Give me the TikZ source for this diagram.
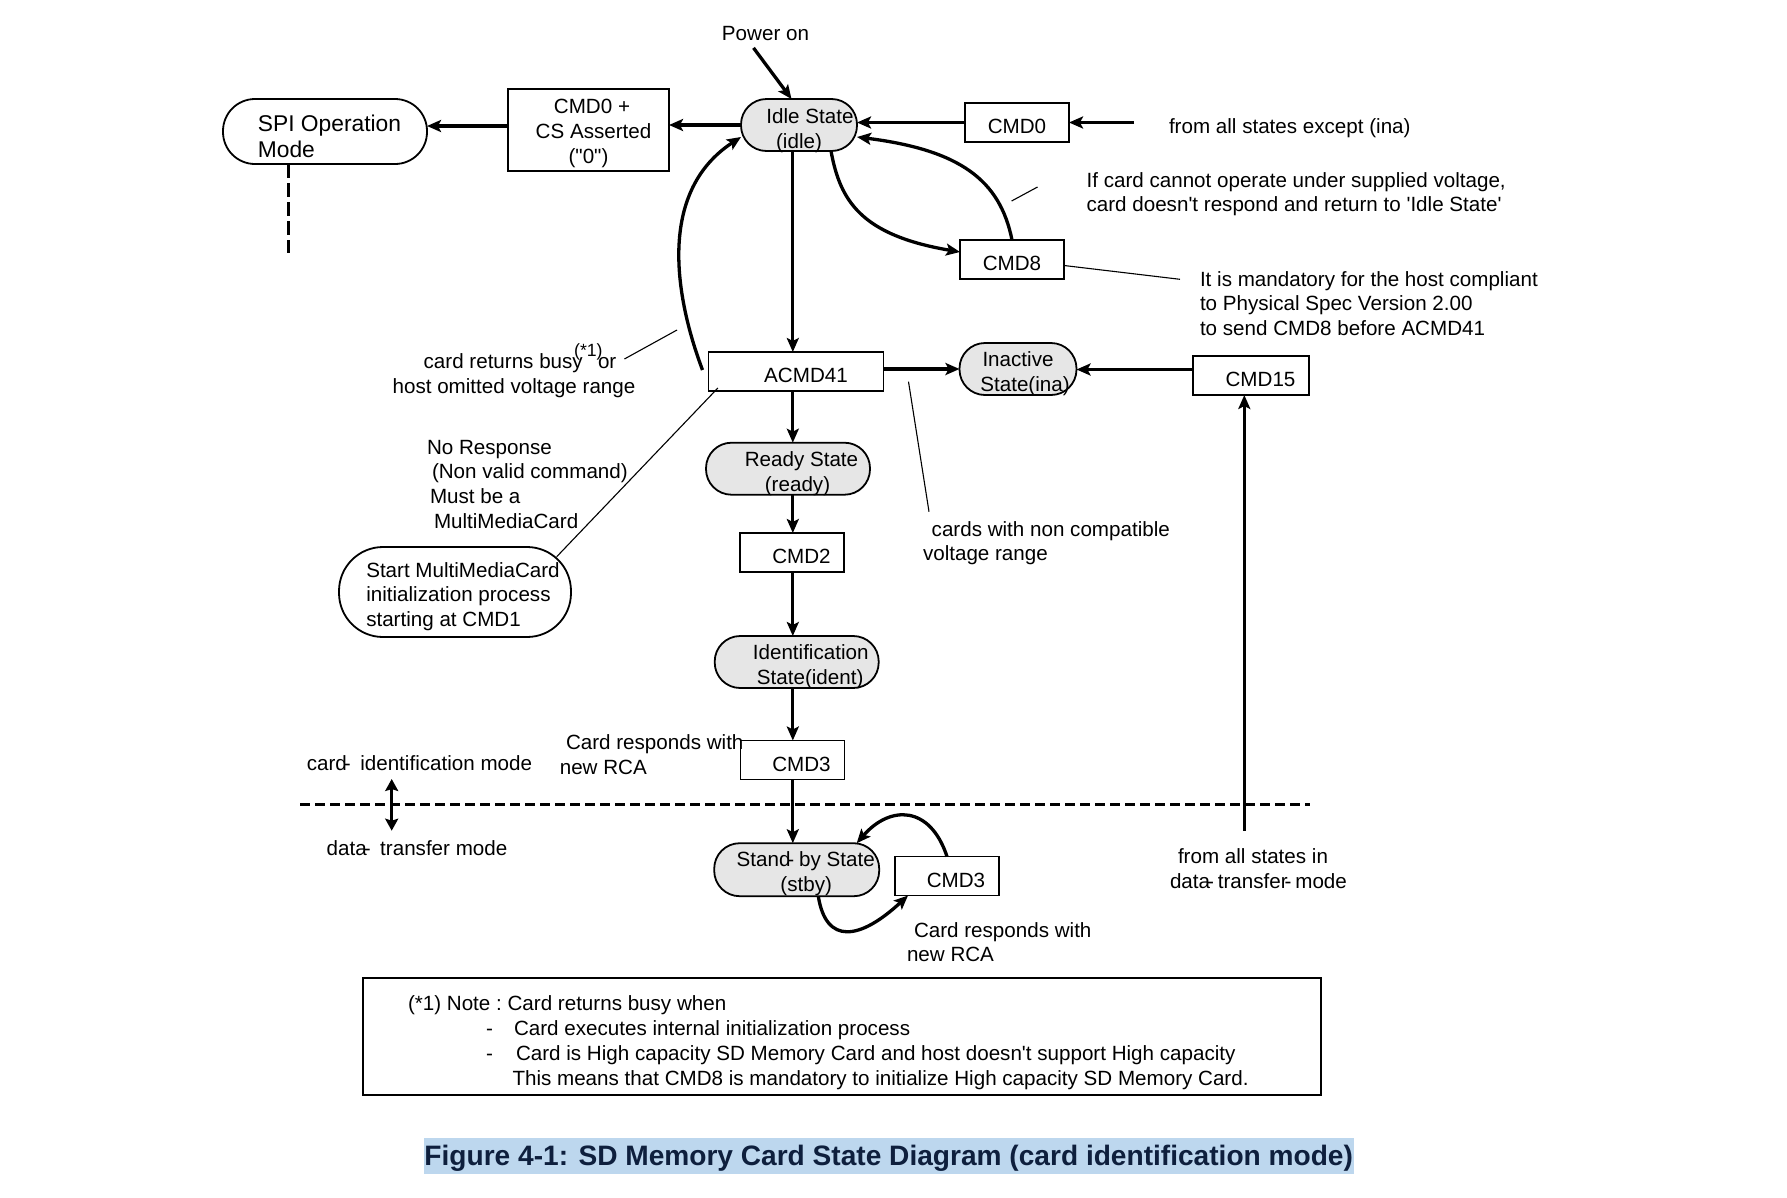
\documentclass[tikz,border=0pt]{standalone}
\usepackage{fontspec}
\setmainfont{Liberation Sans}[Ligatures=TeXOff]
\usetikzlibrary{arrows.meta}
\definecolor{stategray}{HTML}{E6E6E6}
\definecolor{titlebg}{HTML}{BDD7EE}
\definecolor{titlefg}{HTML}{0E1F3D}
\newcommand{\tstrA}{\rule{0pt}{22.5pt}}
\newcommand{\tstrB}{\rule{0pt}{25pt}}
\newcommand{\tstrS}{\rule{0pt}{20pt}}
\newcommand{\ovh}{\kern-3pt\rlap{-}\kern5pt}
\newcommand{\bodyfont}{\fontsize{20.6}{24.9}\selectfont\frenchspacing}
\begin{document}
\begin{tikzpicture}[x=1pt,y=-1pt,
  every node/.style={inner sep=0pt, outer sep=0pt, font=\bodyfont},
  boxst/.style={draw, line width=1.4pt, execute at begin node=\tstrA, align=center},
  statest/.style={draw, line width=1.8pt, fill=stategray, rounded corners=25.5pt, execute at begin node=\tstrA, align=center},
  roundst/.style={draw, line width=1.8pt, execute at begin node=\tstrA, align=left},
  txt/.style={execute at begin node=\tstrB},
  arr/.style={line width=3.3pt, -{Stealth[length=14pt,width=12pt,inset=3pt]}},
  thinln/.style={line width=1.1pt},
  dashln/.style={line width=3pt, dash pattern=on 10pt off 5pt},
]
\fill[white] (0,0) rectangle (1787,1197);
\useasboundingbox (0,0) rectangle (1787,1197);

% ---- shapes
\node[roundst, rounded corners=32pt, minimum width=204pt, minimum height=65pt, font=\fontsize{22.8}{26}\selectfont] (spi) at (325,131.5) {\rule{0pt}{25.8pt}\hspace*{9pt}SPI Operation\\\hspace*{9pt}Mode};
\node[boxst, minimum width=161pt, minimum height=82pt] (cmd0cs) at (588.5,130) {\rule{0pt}{21pt}\hspace*{7pt}CMD0 +\\\hspace*{10pt}CS Asserted\\("0")};
\node[statest, minimum width=116pt, minimum height=52pt] (idle) at (799,125) {\rule{0pt}{22pt}\hspace*{22pt}Idle State\\\smash{(idle)}};
\node[boxst, minimum width=104pt, minimum height=39pt] (cmd0) at (1017,122.5) {CMD0};
\node[boxst, minimum width=104pt, minimum height=39pt] (cmd8) at (1012,259.5) {CMD8};
\node[boxst, minimum width=175pt, minimum height=39pt] (acmd41) at (796,371.5) {\hspace*{20pt}ACMD41};
\node[statest, minimum width=117pt, minimum height=52pt] (inactive) at (1018,369) {\tstrS Inactive\\\smash{\hspace*{14pt}State(ina)}};
\node[boxst, minimum width=116pt, minimum height=39pt] (cmd15) at (1251,375.5) {\hspace*{19pt}CMD15};
\node[statest, minimum width=164pt, minimum height=52pt] (ready) at (788,468.7) {\tstrS\hspace*{27pt}Ready State\\\smash{\hspace*{19pt}(ready)}};
\node[boxst, minimum width=104pt, minimum height=39pt] (cmd2) at (792,552.5) {\hspace*{19pt}CMD2};
\node[statest, minimum width=164pt, minimum height=52pt] (ident) at (796.7,662) {\tstrS\hspace*{28pt}Identification\\\smash{\hspace*{27pt}State(ident)}};
\node[boxst, minimum width=104pt, minimum height=39pt] (cmd3a) at (792.5,760) {\hspace*{18pt}CMD3};
\node[statest, minimum width=165pt, minimum height=53pt] (stby) at (796.7,869.7) {\rule{0pt}{18pt}\hspace*{18pt}Stand\ovh\hspace{1pt} by State\\\smash{\hspace*{19pt}(stby)}};
\node[boxst, minimum width=104pt, minimum height=39pt] (cmd3b) at (947,876) {\hspace*{18pt}CMD3};
\node[roundst, rounded corners=44pt, minimum width=232pt, minimum height=90pt] (mmc) at (455,592) {\rule{0pt}{24.2pt}\hspace*{16pt}Start MultiMediaCard\\\hspace*{16pt}initialization process\\\hspace*{16pt}starting at CMD1};

% ---- free texts
\node[txt, anchor=north] (power) at (765.5,15) {Power on};
\node[txt, anchor=north west] (fromall) at (1169,108.7) {from all states except (ina)};
\node[txt, anchor=north west, align=left] (ifcard) at (1086.6,162) {\tstrB If card cannot operate under supplied voltage,\\card doesn't respond and return to 'Idle State'};
\node[txt, anchor=north west, align=left] (mand) at (1200,261) {\tstrB It is mandatory for the host compliant\\to Physical Spec Version 2.00\\to send CMD8 before ACMD41};
\node[txt, anchor=north, align=center] (busy) at (517,343.7) {\tstrB\hspace*{6pt}card returns busy\kern-8.7pt\smash{\raisebox{12.7pt}{\fontsize{17.7}{20}\selectfont(*1)}}\kern-4.6pt or\\host omitted voltage range\hspace*{6pt}};
\node[txt, anchor=north west, align=left] (noresp) at (427,429) {\tstrB No Response\\\hspace*{5pt}(Non valid command)\\\hspace*{3pt}Must be a\\\hspace*{7pt}MultiMediaCard};
\node[txt, anchor=north west, align=left] (noncomp) at (923,511) {\tstrB\hspace*{8.7pt}cards with non compatible\\voltage range};
\node[txt, anchor=north west] (cidm) at (306.8,745.3) {card\ovh\ \ identification mode};
\node[txt, anchor=north west] (dtm) at (326.7,830.3) {data\ovh\ \ transfer mode};
\node[txt, anchor=north west, align=left] (rcaa) at (559.8,724.7) {\tstrB\hspace*{6.2pt}Card responds with\\new RCA};
\node[txt, anchor=north west, align=left] (rcab) at (907,912) {\tstrB\hspace*{7pt}Card responds with\\new RCA};
\node[txt, anchor=north west, align=left] (fromdt) at (1170,838.8) {\tstrB\hspace*{8pt}from all states in\\data\ovh\ transfer\ovh\ mode};

% ---- note box
\node[draw, line width=1.8pt, minimum width=958pt, minimum height=117pt] (notebox) at (842,1036.5) {};
\node[txt, anchor=north west, align=left] (notetxt) at (408,985.3) {\tstrB(*1) Note : Card returns busy when\\\hspace*{78pt}\makebox[28pt][l]{-}Card executes internal initialization process\\\hspace*{78pt}\makebox[30pt][l]{-}Card is High capacity SD Memory Card and host doesn't support High capacity\\\hspace*{104.5pt}This means that CMD8 is mandatory to initialize High capacity SD Memory Card.};

% ---- title
\node[fill=titlebg, minimum width=929.5pt, minimum height=36pt, text=titlefg, text height=23pt, text depth=4pt, font=\fontsize{28.1}{32}\selectfont\bfseries] (title) at (888.75,1156.3) {Figure 4-1: SD Memory Card State Diagram (card identification mode)};

% ---- coordinates
\coordinate (col) at (792.8,0);
\coordinate (c0in) at (1134,122.5);
\coordinate (c15in) at (1244.3,830.7);
\coordinate (spid) at (288,253);
\coordinate (dl1) at (300,804.5);
\coordinate (dl2) at (1310,804.5);
\coordinate (dm1) at (391.7,779);
\coordinate (dm2) at (391.7,830.7);
\coordinate (a1) at ([yshift=4pt]cmd0cs.west);
\coordinate (a2) at ([yshift=2.5pt]acmd41.east);
\coordinate (a3) at ([yshift=6pt]cmd15.west);
\coordinate (n1a) at (1011.6,201);
\coordinate (n1b) at (1037.5,187);
\coordinate (n2) at (1180,279.3);
\coordinate (n3a) at (624.4,359);
\coordinate (n3b) at (677,330);
\coordinate (n4) at (556.7,556.7);
\coordinate (n5a) at (908.5,381.7);
\coordinate (n5b) at (929,511.7);

% ---- dashed lines
\draw[dashln] (dl1) -- (dl2);
\draw[line width=3pt, dash pattern=on 14pt off 5pt] (spid |- spi.south) -- (spid);

% ---- connectors
\draw[arr] ([xshift=-12pt,yshift=-7.7pt]power.south) -- ([xshift=-7.5pt]idle.north);
\draw[arr] (idle.west) -- (idle.west -| cmd0cs.east);
\draw[arr] (a1) -- (a1 -| spi.east);
\draw[arr] (cmd0.west) -- (cmd0.west -| idle.east);
\draw[arr] (c0in) -- (cmd0.east);
\draw[arr] ([xshift=32pt]idle.south) .. controls +(9,49) and +(-100,-17) .. ([yshift=7.5pt]cmd8.west);
\draw[arr] (cmd8.north) .. controls +(-12,-60) and +(103,13) .. ([yshift=-12pt]idle.east);
\draw[arr] ([xshift=-6pt,yshift=1.5pt]acmd41.west) .. controls +(-30,-80) and +(-81,53) .. ([yshift=-12pt]idle.west);
\draw[arr] (idle.south -| col) -- (acmd41.north -| col);
\draw[arr] (acmd41.south -| col) -- (ready.north -| col);
\draw[arr] (ready.south -| col) -- (cmd2.north -| col);
\draw[arr] (cmd2.south -| col) -- (ident.north -| col);
\draw[arr] (ident.south -| col) -- (cmd3a.north -| col);
\draw[arr] (cmd3a.south -| col) -- (stby.north -| col);
\draw[arr] (a2) -- (a2 -| inactive.west);
\draw[arr] (a3) -- (a3 -| inactive.east);
\draw[arr] (c15in) -- (c15in |- cmd15.south);
\draw[arr] ([xshift=21.6pt]stby.south) .. controls +(7.7,49) and +(-48,44.5) .. ([xshift=-39pt]cmd3b.south);
\draw[arr] (cmd3b.north) .. controls +(-17,-51.5) and +(33.3,-38.2) .. ([xshift=60pt]stby.north);
\draw[line width=3.3pt, {Stealth[length=12pt,width=13pt,inset=2pt]}-{Stealth[length=12pt,width=13pt,inset=2pt]}] (dm1) -- (dm2);

% ---- thin annotation lines
\draw[thinln] (n1a) -- (n1b);
\draw[thinln] ([yshift=-6pt]cmd8.east) -- (n2);
\draw[thinln] (n3a) -- (n3b);
\draw[thinln] ([xshift=9.4pt,yshift=3pt]acmd41.south west) -- (n4);
\draw[thinln] (n5a) -- (n5b);
\end{tikzpicture}
\end{document}
